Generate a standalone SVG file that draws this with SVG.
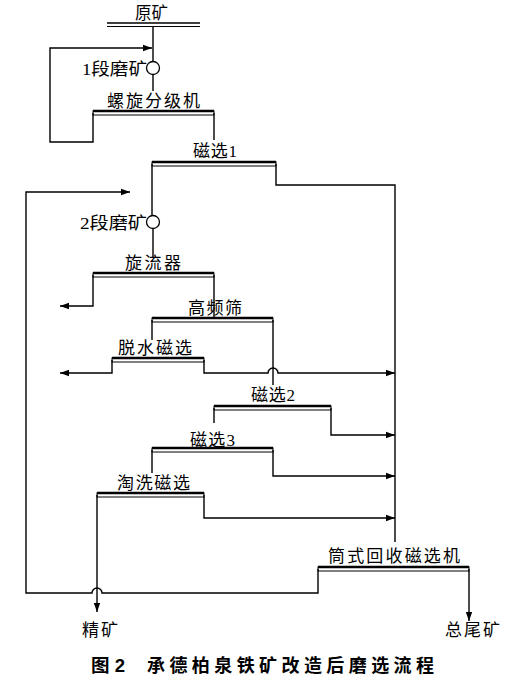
<svg xmlns="http://www.w3.org/2000/svg" width="505" height="689" viewBox="0 0 505 689">
<style>
.t{font-family:"Liberation Serif","Noto Sans CJK SC",serif;font-size:17px;fill:#000}
.cap{font-family:"Liberation Sans","Noto Sans CJK SC",sans-serif;font-size:18px;font-weight:bold;fill:#000}
.ln{fill:none;stroke:#000;stroke-width:1.4}
.bar{fill:none;stroke:#000;stroke-width:1}
.bt{stroke:#000;stroke-width:2.4}
</style>
<defs>
<marker id="ar" markerUnits="userSpaceOnUse" markerWidth="10" markerHeight="8" refX="9" refY="4" orient="auto">
<path d="M0,0.8 L9,4 L0,7.2 Z" fill="#000"/>
</marker>
</defs>
<rect width="505" height="689" fill="#fff"/>
<g id="connectors">
<path class="ln" d="M153,26 V61.5"/>
<path class="ln" d="M93,113 V142 H50 V48 H152" marker-end="url(#ar)"/>
<path class="ln" d="M153,74.5 V91"/>
<path class="ln" d="M214,113 V140"/>
<path class="ln" d="M152,164 V215.5"/>
<path class="ln" d="M276,164 V185 H395 V542"/>
<path class="ln" d="M318,569 V593 H102 A5,5 0 0 0 92,593 H26 V192 H130" marker-end="url(#ar)"/>
<path class="ln" d="M153,228.5 V257"/>
<path class="ln" d="M93,275 V306 H60" marker-end="url(#ar)"/>
<path class="ln" d="M214,275 V318"/>
<path class="ln" d="M152,320 V340"/>
<path class="ln" d="M273,320 V385"/>
<path class="ln" d="M112,360 V373 H60" marker-end="url(#ar)"/>
<path class="ln" d="M204,360 V373 H268 A5,5 0 0 1 278,373 H395" marker-end="url(#ar)"/>
<path class="ln" d="M214,408 V423"/>
<path class="ln" d="M331,408 V435 H395" marker-end="url(#ar)"/>
<path class="ln" d="M152,450 V473"/>
<path class="ln" d="M273,450 V476 H395" marker-end="url(#ar)"/>
<path class="ln" d="M204,495 V518 H395" marker-end="url(#ar)"/>
<path class="ln" d="M97,495 V612" marker-end="url(#ar)"/>
<path class="ln" d="M469,569 V621" marker-end="url(#ar)"/>
</g>
<g id="raw-ore">
<line x1="107" y1="23" x2="200" y2="23" stroke="#000" stroke-width="1.3"/>
<line x1="107" y1="26.5" x2="200" y2="26.5" stroke="#000" stroke-width="1"/>
<text class="t" x="135" y="19" textLength="33" lengthAdjust="spacingAndGlyphs">原矿</text>
</g>
<g id="mill1">
<circle cx="153" cy="68" r="6.5" fill="#fff" stroke="#000" stroke-width="1.3"/>
<text class="t" x="82" y="75" textLength="65" lengthAdjust="spacingAndGlyphs">1段磨矿</text>
</g>
<g id="classifier">
<rect class="bar" x="93" y="111" width="121" height="4"/><line class="bt" x1="93" y1="111" x2="214" y2="111"/>
<text class="t" x="107" y="107" textLength="93" lengthAdjust="spacing">螺旋分级机</text>
</g>
<g id="mag1">
<rect class="bar" x="152" y="162" width="124" height="4"/><line class="bt" x1="152" y1="162" x2="276" y2="162"/>
<text class="t" x="193" y="157" textLength="44" lengthAdjust="spacing">磁选1</text>
</g>
<g id="mill2">
<circle cx="153" cy="222" r="6.5" fill="#fff" stroke="#000" stroke-width="1.3"/>
<text class="t" x="80" y="229" textLength="67" lengthAdjust="spacingAndGlyphs">2段磨矿</text>
</g>
<g id="cyclone">
<rect class="bar" x="93" y="273" width="121" height="4"/><line class="bt" x1="93" y1="273" x2="214" y2="273"/>
<text class="t" x="125" y="269" textLength="56" lengthAdjust="spacing">旋流器</text>
</g>
<g id="screen">
<rect class="bar" x="152" y="318" width="121" height="4"/><line class="bt" x1="152" y1="318" x2="273" y2="318"/>
<text class="t" x="188" y="314" textLength="54" lengthAdjust="spacing">高频筛</text>
</g>
<g id="dewater">
<rect class="bar" x="112" y="358" width="92" height="4"/><line class="bt" x1="112" y1="358" x2="204" y2="358"/>
<text class="t" x="118" y="354" textLength="74" lengthAdjust="spacing">脱水磁选</text>
</g>
<g id="mag2">
<rect class="bar" x="214" y="406" width="117" height="4"/><line class="bt" x1="214" y1="406" x2="331" y2="406"/>
<text class="t" x="251" y="401" textLength="44" lengthAdjust="spacing">磁选2</text>
</g>
<g id="mag3">
<rect class="bar" x="152" y="448" width="121" height="4"/><line class="bt" x1="152" y1="448" x2="273" y2="448"/>
<text class="t" x="190" y="446" textLength="45" lengthAdjust="spacing">磁选3</text>
</g>
<g id="elutriation">
<rect class="bar" x="97" y="493" width="107" height="4"/><line class="bt" x1="97" y1="493" x2="204" y2="493"/>
<text class="t" x="117" y="489" textLength="73" lengthAdjust="spacing">淘洗磁选</text>
</g>
<g id="drum">
<rect class="bar" x="318" y="567" width="151" height="4"/><line class="bt" x1="318" y1="567" x2="469" y2="567"/>
<text class="t" x="328" y="562" textLength="132" lengthAdjust="spacing">筒式回收磁选机</text>
</g>
<g id="concentrate">
<text class="t" x="82" y="636" textLength="36" lengthAdjust="spacing">精矿</text>
</g>
<g id="tailings">
<text class="t" x="445" y="636" textLength="55" lengthAdjust="spacing">总尾矿</text>
</g>
<g id="caption">
<text class="cap" x="91" y="672" textLength="34" lengthAdjust="spacingAndGlyphs">图 2</text>
<text class="cap" x="147" y="672" textLength="287" lengthAdjust="spacing">承德柏泉铁矿改造后磨选流程</text>
</g>
</svg>
